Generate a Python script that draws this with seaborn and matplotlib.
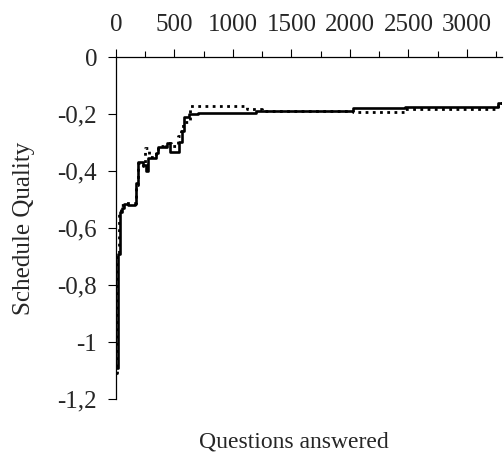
import matplotlib
matplotlib.use("Agg")
import matplotlib.pyplot as plt
import seaborn as sns
import pandas as pd
from matplotlib.ticker import MultipleLocator

# Solid series (step change points)
solid_x = [0, 15, 30, 50, 70, 100, 160, 172, 190, 230, 258, 275, 345, 362, 400, 432, 462, 538, 561, 581, 620, 700, 1200, 1350, 2030, 2470, 3265, 3300]
solid_y = [-1.09, -0.69, -0.545, -0.53, -0.515, -0.52, -0.515, -0.44, -0.366, -0.378, -0.40, -0.355, -0.337, -0.314, -0.315, -0.30, -0.331, -0.296, -0.26, -0.208, -0.20, -0.194, -0.19, -0.188, -0.179, -0.173, -0.159, -0.159]

# Dotted series (step change points)
dotted_x = [0, 10, 25, 45, 80, 170, 185, 230, 248, 280, 340, 360, 400, 430, 470, 530, 555, 575, 630, 1120, 1250, 2030, 2470, 3265, 3300]
dotted_y = [-1.11, -0.70, -0.55, -0.52, -0.51, -0.45, -0.37, -0.38, -0.32, -0.35, -0.33, -0.31, -0.32, -0.30, -0.31, -0.278, -0.26, -0.226, -0.172, -0.18, -0.19, -0.191, -0.182, -0.159, -0.159]

x_ticks = [0, 500, 1000, 1500, 2000, 2500, 3000]
x_ticklabels = ["0", "500", "1000", "1500", "2000", "2500", "3000"]
y_ticks = [0, -0.2, -0.4, -0.6, -0.8, -1.0, -1.2]
y_ticklabels = ["0", "-0,2", "-0,4", "-0,6", "-0,8", "-1", "-1,2"]

sns.set_theme(style="white")
plt.rcParams["font.family"] = ["Liberation Serif", "DejaVu Serif"]

FS = 18

fig = plt.figure(figsize=(5.04, 4.63), dpi=100)
ax = fig.add_axes([116 / 504, 1 - 399 / 463, (502 - 116) / 504, (399 - 57.3) / 463])

df_s = pd.DataFrame({"q": solid_x, "quality": solid_y})
df_d = pd.DataFrame({"q": dotted_x, "quality": dotted_y})

sns.lineplot(data=df_d, x="q", y="quality", ax=ax, color="black", lw=2.0,
             linestyle=(0, (1, 1.6)), drawstyle="steps-post", estimator=None, sort=False)
sns.lineplot(data=df_s, x="q", y="quality", ax=ax, color="black", lw=1.9,
             drawstyle="steps-post", estimator=None, sort=False)

ax.set_xlim(0, 3300)
ax.set_ylim(-1.2, 0)

ax.xaxis.tick_top()
ax.set_xticks(x_ticks)
ax.set_xticklabels(x_ticklabels)
ax.xaxis.set_minor_locator(MultipleLocator(250))
ax.set_yticks(y_ticks)
ax.set_yticklabels(y_ticklabels)

ax.tick_params(axis="x", which="major", top=True, bottom=False, direction="out",
               length=5.5, width=0.8, color="black", labelsize=FS, pad=10)
ax.tick_params(axis="x", which="minor", top=True, bottom=False, direction="out",
               length=4, width=0.8, color="black")
ax.tick_params(axis="y", which="major", left=True, direction="out",
               length=5.5, width=0.8, color="black", labelsize=FS, pad=8)

for side in ["right", "bottom"]:
    ax.spines[side].set_visible(False)
for side in ["left", "top"]:
    ax.spines[side].set_color("black")
    ax.spines[side].set_linewidth(0.9)

ax.set_xlabel("")
ax.set_ylabel("")
fig.text(294 / 504, 1 - 442 / 463, "Questions answered", ha="center", va="center", fontsize=17)
fig.text(24 / 504, 1 - 228 / 463, "Schedule Quality", ha="center", va="center",
         rotation=90, fontsize=FS)

fig.savefig("out.png", dpi=100)
